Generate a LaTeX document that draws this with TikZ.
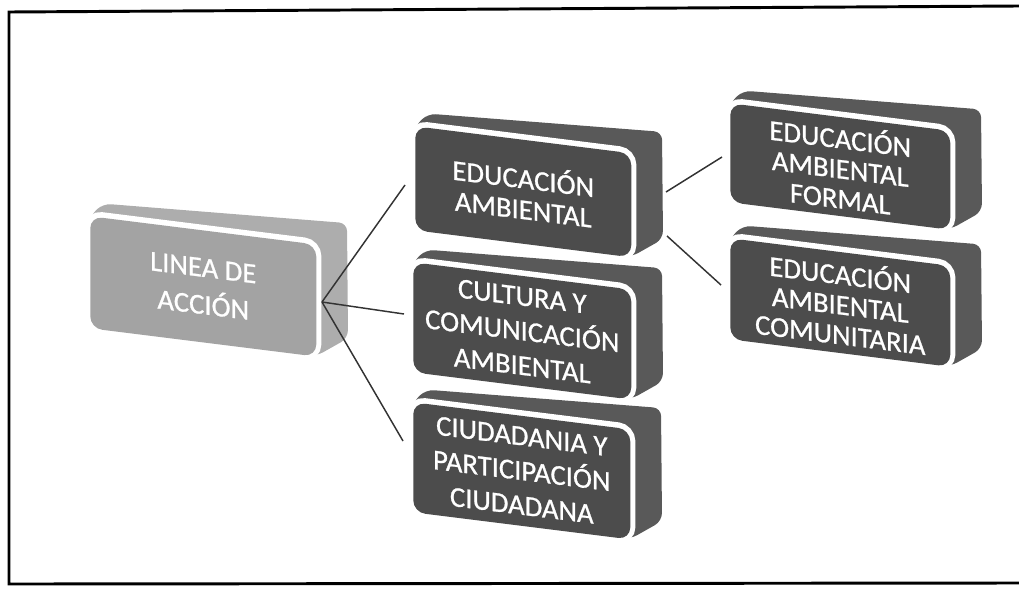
\documentclass[tikz,border=0pt]{standalone}
\usepackage{fontspec}
\setmainfont{Carlito}
\newfontfamily\boxfont{Carlito}[FakeBold=0.8]
\colorlet{darkfront}{black!70}
\colorlet{darkback}{black!65}
\colorlet{lightfront}{black!36}
\colorlet{lightback}{black!32}
\tikzset{
  txt/.style={text=white, align=center, inner sep=0pt, transform shape},
  conn/.style={draw=black!80, line width=1.1pt},
  frame/.style={draw=black, line width=2.2pt}
}
% #1 name, #2 x of front top-left, #3 y of front top-left, #4 width, #5 height,
% #6 colour set (dark/light), #7 baselineskip, #8 text
\newcommand\brick[8]{%
\begin{scope}[shift={(#2,#3)}, cm={1,-0.125,0,1,(0,0)}]
  \fill[#6back, rounded corners=6pt] (0,0) -- (13,-14) -- ({#4+31},-25) -- ({#4+32},{#5-22}) -- (#4,#5) -- (0,#5) -- cycle;
  \draw[white, line width=8pt, rounded corners=9pt] (0,0) rectangle (#4,#5);
  \node[txt, fill=#6front, rounded corners=9pt, minimum width={#4*0.75pt}, minimum height={#5*0.75pt},
        font=\boxfont\fontsize{21.5}{#7}\selectfont, anchor=north west] (#1) at (0,0) {#8};
\end{scope}}
\begin{document}
\begin{tikzpicture}[x=0.75pt, y=-0.75pt]
\useasboundingbox (0,0) rectangle (1019,589);
\draw[frame] (1019,6) -- (9,12) -- (9,584) -- (1019,583);

\brick{linea}{90}{216}{226}{112}{light}{28}{LINEA DE\\ACCIÓN}
\brick{ea}{415}{126}{216}{104}{dark}{23}{EDUCACIÓN\\AMBIENTAL}
\brick{cca}{413}{262}{218}{110}{dark}{26}{CULTURA Y\\COMUNICACIÓN\\AMBIENTAL}
\brick{cpc}{413}{402}{217}{110}{dark}{26}{CIUDADANIA Y\\PARTICIPACIÓN\\CIUDADANA}
\brick{eaf}{730}{103}{220}{99}{dark}{22.5}{EDUCACIÓN\\AMBIENTAL\\FORMAL}
\brick{eac}{730}{238}{220}{101}{dark}{22.5}{EDUCACIÓN\\AMBIENTAL\\COMUNITARIA}

% connector ends
\coordinate (linea-out) at (322,302);
\coordinate (ea-in) at (405,185);
\coordinate (cca-in) at (404,314);
\coordinate (cpc-in) at (403,441);
\coordinate (ea-out1) at (666,192);
\coordinate (ea-out2) at (667,236);
\coordinate (eaf-in) at (722,157);
\coordinate (eac-in) at (721,285);

\draw[conn] (linea-out) -- (ea-in);
\draw[conn] (linea-out) -- (cca-in);
\draw[conn] (linea-out) -- (cpc-in);
\draw[conn] (ea-out1) -- (eaf-in);
\draw[conn] (ea-out2) -- (eac-in);
\end{tikzpicture}
\end{document}
